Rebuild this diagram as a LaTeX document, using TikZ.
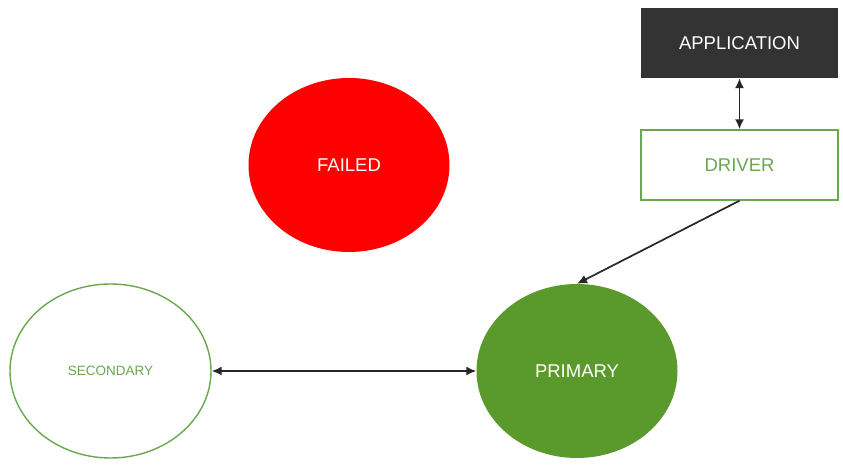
\documentclass[tikz,border=0pt]{standalone}
\usepackage{fontspec}
\setmainfont{Liberation Sans}
\usetikzlibrary{shapes.geometric,arrows.meta}
\definecolor{leaf}{HTML}{5A9A2C}
\definecolor{leafline}{HTML}{6AA84F}
\definecolor{charcoal}{HTML}{333333}
\definecolor{alarm}{HTML}{FF0000}
\tikzset{
  statenode/.style={ellipse, minimum width=201pt, minimum height=174pt, inner sep=0pt},
  boxnode/.style={rectangle, minimum width=197pt, minimum height=70pt, inner sep=0pt},
  link/.style={draw=black!85, line width=1.7pt, -{Latex[length=10pt,width=9pt]}},
  duplex/.style={draw=black!85, line width=1.7pt, {Latex[length=10pt,width=9pt]}-{Latex[length=10pt,width=9pt]}}
}
\begin{document}
\begin{tikzpicture}[x=1pt,y=1pt]
\useasboundingbox (0,0) rectangle (843,468);
\fill[white] (0,0) rectangle (843,468);

\node[boxnode, fill=charcoal, text=white, font=\fontsize{18.5}{20}\selectfont] (app) at (739.5,425) {APPLICATION};
\node[boxnode, draw=leafline, line width=1.4pt, fill=white, text=leafline, font=\fontsize{18.5}{20}\selectfont] (drv) at (739.5,303) {DRIVER};

\node[statenode, fill=alarm, text=white, font=\fontsize{18.5}{20}\selectfont] (failed) at (349,303) {FAILED};
\node[statenode, draw=leafline, line width=1.4pt, fill=white, text=leafline, font=\fontsize{13.5}{15}\selectfont] (sec) at (110.5,97) {SECONDARY};
\node[statenode, fill=leaf, text=white, font=\fontsize{18.5}{20}\selectfont] (pri) at (577,97) {PRIMARY};

\draw[duplex] (app.south) -- (drv.north);
\draw[link] (drv.south) -- (pri.north);
\draw[duplex] (sec.east) -- (pri.west);
\end{tikzpicture}
\end{document}
